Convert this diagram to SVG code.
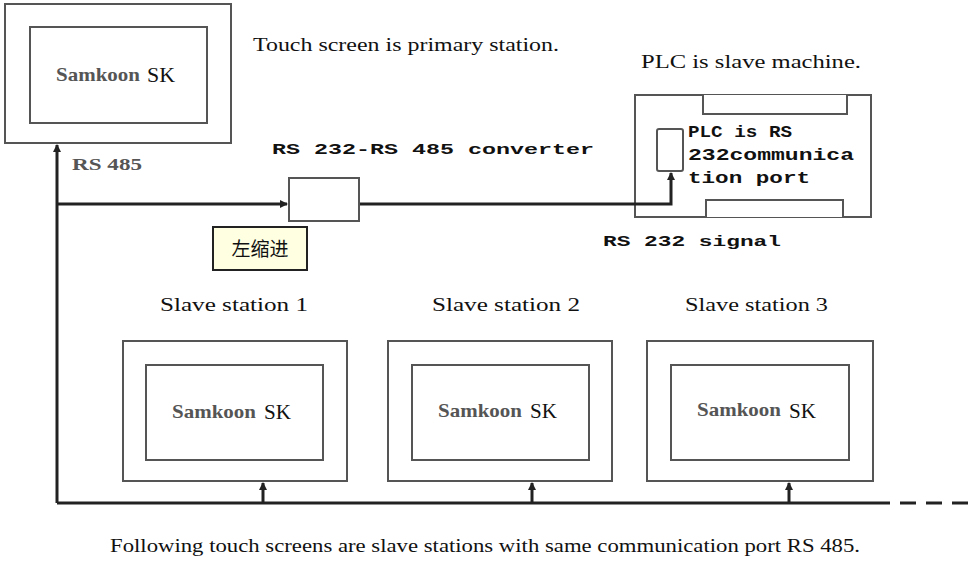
<svg xmlns="http://www.w3.org/2000/svg" width="971" height="573" viewBox="0 0 971 573">
<style>
.box{fill:#fff;stroke:#555;stroke-width:2}
.ln{fill:none;stroke:#222;stroke-width:3}
.serif{font-family:"Liberation Serif","Times New Roman",serif;fill:#111}
.mono{font-family:"Liberation Mono","Courier New",monospace;font-weight:bold;fill:#111}
.sam{font-family:"Liberation Serif",serif;font-size:19px;fill:#555;font-weight:bold}
.sk{font-family:"Liberation Serif","Times New Roman",serif;font-size:20px;fill:#111;font-weight:normal}
</style>
<defs>
<marker id="ar" markerWidth="8" markerHeight="8" refX="7" refY="4" orient="auto" markerUnits="userSpaceOnUse">
<path d="M0,0 L8,4 L0,8 z" fill="#222"/>
</marker>
</defs>
<rect width="971" height="573" fill="#fff"/>

<g id="primary">
<rect class="box" x="5" y="4" width="226" height="139"/>
<rect class="box" x="30" y="27" width="177" height="96"/>
<text x="56" y="81" class="sam" textLength="84" lengthAdjust="spacingAndGlyphs">Samkoon</text>
<text x="147" y="82" class="sk" textLength="28" lengthAdjust="spacingAndGlyphs">SK</text>
</g>

<g id="labels">
<text x="253" y="51" class="serif" font-size="18" textLength="306" lengthAdjust="spacingAndGlyphs">Touch screen is primary station.</text>
<text x="641" y="68" class="serif" font-size="18" textLength="220" lengthAdjust="spacingAndGlyphs">PLC is slave machine.</text>
<text x="72" y="170" font-family="Liberation Serif,serif" font-size="17" fill="#555" font-weight="bold" textLength="70" lengthAdjust="spacingAndGlyphs">RS 485</text>
<text x="272" y="154" class="mono" font-size="15" textLength="322" lengthAdjust="spacingAndGlyphs">RS 232-RS 485 converter</text>
<text x="603" y="246" class="mono" font-size="15" textLength="178" lengthAdjust="spacingAndGlyphs">RS 232 signal</text>
<text x="110" y="552" class="serif" font-size="19" textLength="750" lengthAdjust="spacingAndGlyphs">Following touch screens are slave stations with same communication port RS 485.</text>
</g>

<g id="converter">
<rect class="box" x="289" y="178" width="70" height="43"/>
</g>

<g id="note">
<rect x="213" y="227" width="94" height="43" fill="#ffffe1" stroke="#222" stroke-width="2"/>
<text x="260" y="256" text-anchor="middle" font-family="Noto Sans CJK SC,sans-serif" font-size="19" fill="#111">左缩进</text>
</g>

<g id="plc">
<rect class="box" x="635" y="95" width="236" height="122"/>
<path class="box" d="M703,95 V114 H847 V95"/>
<path class="box" d="M706,217 V200 H843 V217"/>
<rect class="box" x="657" y="129" width="26" height="42" rx="2"/>
<text class="mono" font-size="16">
<tspan x="688" y="137" textLength="104" lengthAdjust="spacingAndGlyphs">PLC is RS</tspan>
<tspan x="688" y="160" textLength="166" lengthAdjust="spacingAndGlyphs">232communica</tspan>
<tspan x="688" y="183" textLength="122" lengthAdjust="spacingAndGlyphs">tion port</tspan>
</text>
</g>

<g id="slave1">
<text x="160" y="311" class="serif" font-size="18" textLength="148" lengthAdjust="spacingAndGlyphs">Slave station 1</text>
<rect class="box" x="123" y="341" width="224" height="140"/>
<rect class="box" x="146" y="365" width="177" height="95"/>
<text x="172" y="418" class="sam" textLength="84" lengthAdjust="spacingAndGlyphs">Samkoon</text>
<text x="264" y="419" class="sk" textLength="27" lengthAdjust="spacingAndGlyphs">SK</text>
</g>
<g id="slave2">
<text x="432" y="311" class="serif" font-size="18" textLength="148" lengthAdjust="spacingAndGlyphs">Slave station 2</text>
<rect class="box" x="388" y="341" width="224" height="140"/>
<rect class="box" x="412" y="365" width="177" height="95"/>
<text x="438" y="417" class="sam" textLength="84" lengthAdjust="spacingAndGlyphs">Samkoon</text>
<text x="530" y="418" class="sk" textLength="27" lengthAdjust="spacingAndGlyphs">SK</text>
</g>
<g id="slave3">
<text x="685" y="311" class="serif" font-size="18" textLength="143" lengthAdjust="spacingAndGlyphs">Slave station 3</text>
<rect class="box" x="647" y="341" width="226" height="140"/>
<rect class="box" x="671" y="365" width="178" height="95"/>
<text x="697" y="416" class="sam" textLength="84" lengthAdjust="spacingAndGlyphs">Samkoon</text>
<text x="789" y="418" class="sk" textLength="27" lengthAdjust="spacingAndGlyphs">SK</text>
</g>

<g id="connectors">
<path class="ln" d="M57,503 V145" marker-end="url(#ar)"/>
<path class="ln" d="M57,503 H890"/>
<path class="ln" d="M900,503 H971" stroke-dasharray="16,10"/>
<path class="ln" d="M57,204 H287" marker-end="url(#ar)"/>
<path class="ln" d="M360,204 H671 V173" marker-end="url(#ar)"/>
<path class="ln" d="M263,503 V483" marker-end="url(#ar)"/>
<path class="ln" d="M532,503 V483" marker-end="url(#ar)"/>
<path class="ln" d="M789,503 V483" marker-end="url(#ar)"/>
</g>
</svg>
